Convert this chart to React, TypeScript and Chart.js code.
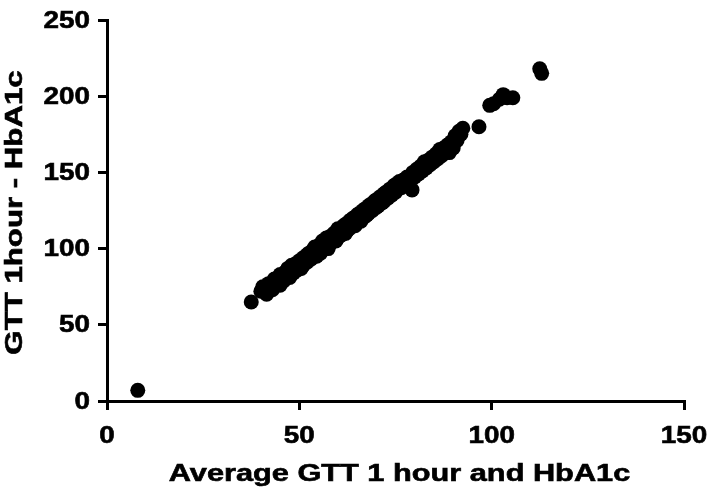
import React, { useEffect, useRef } from "react";
import { Chart, registerables } from "chart.js";

Chart.register(...registerables);

// Average of GTT 1 hour and HbA1c (x)
const averageValues = [
  8, 37.5, 40, 40.5, 41.5, 42, 43, 43.5, 44, 45,
  45, 46, 46.5, 47, 47.5, 48, 48.5, 49, 49.5, 50,
  50.5, 51, 51, 52, 52, 52.5, 53, 53.5, 54, 54,
  54.5, 55, 55.5, 56, 56, 56.5, 57, 57.5, 58, 58,
  58.5, 59, 59.5, 60, 60, 60.5, 61, 61.5, 62, 62,
  62.5, 63, 63, 63.5, 64, 64.5, 65, 65, 65.5, 66,
  66.5, 67, 67, 67.5, 68, 68, 68.5, 69, 69.5, 70,
  70, 70.5, 71, 71.5, 72, 72, 72.5, 73, 73.5, 74,
  74.5, 75, 75, 75.5, 76, 76.5, 77, 77.5, 78, 78.5,
  79.3, 79.5, 80, 80.5, 81, 81.5, 82, 82.5, 83, 83.5,
  84, 84.5, 85, 85.5, 86, 86.5, 87, 87.5, 88, 88.5,
  89, 89.5, 90, 90.5, 91, 91.5, 92, 92.5, 96.7, 99.5,
  100.5, 102, 103, 104, 105.5, 112.5, 113,
];

// GTT 1hour - HbA1c (y)
const differenceValues = [
  7, 65, 72, 75, 70, 77, 73, 80, 78, 76,
  83, 79, 85, 87, 81, 89, 84, 90, 86, 92,
  87, 94, 89, 96, 91, 97, 93, 99, 95, 101,
  95, 102, 97, 105, 99, 103, 107, 100, 108, 103,
  106, 110, 105, 113, 107, 112, 109, 115, 110, 116,
  112, 118, 113, 119, 120, 115, 122, 117, 123, 118,
  125, 121, 126, 122, 128, 123, 129, 125, 131, 127,
  132, 128, 134, 130, 136, 131, 137, 133, 139, 135,
  141, 137, 142, 139, 144, 140, 145, 142, 147, 143,
  138.5, 150, 147, 152, 149, 154, 151, 157, 153, 158,
  155, 160, 157, 162, 159, 165, 161, 166, 163, 168,
  163, 170, 166, 174, 171, 177, 175, 179, 180, 194,
  195, 198, 201, 199, 199, 218, 215,
];

const xTickValues = [0, 50, 100, 150];
const yTickValues = [0, 50, 100, 150, 200, 250];
const xTitle = "Average GTT 1 hour and HbA1c";
const yTitle = "GTT 1hour - HbA1c";

const FONT = '"Liberation Sans", Arial, Helvetica, sans-serif';

function drawStretched(
  ctx: CanvasRenderingContext2D,
  text: string,
  x: number,
  y: number,
  sx: number,
  align: CanvasTextAlign,
  baseline: CanvasTextBaseline,
  rotate: boolean
) {
  ctx.save();
  ctx.translate(x, y);
  if (rotate) ctx.rotate(-Math.PI / 2);
  ctx.scale(sx, 1);
  ctx.textAlign = align;
  ctx.textBaseline = baseline;
  ctx.fillText(text, 0, 0);
  ctx.lineWidth = 0.6;
  ctx.strokeText(text, 0, 0);
  ctx.restore();
}

const textPlugin = {
  id: "stretchedText",
  afterDraw(chart: any) {
    const ctx: CanvasRenderingContext2D = chart.ctx;
    const xs = chart.scales.x;
    const ys = chart.scales.y;
    const ca = chart.chartArea;
    ctx.save();
    ctx.fillStyle = "#000";
    ctx.strokeStyle = "#000";
    ctx.font = `bold 24px ${FONT}`;
    xTickValues.forEach((v) => {
      drawStretched(ctx, String(v), xs.getPixelForValue(v), ca.bottom + 42, 1.16, "center", "alphabetic", false);
    });
    yTickValues.forEach((v) => {
      drawStretched(ctx, String(v), ca.left - 17, ys.getPixelForValue(v) + 1, 1.16, "right", "middle", false);
    });
    ctx.font = `bold 24px ${FONT}`;
    drawStretched(ctx, xTitle, (ca.left + ca.right) / 2 + 4, ca.bottom + 80, 1.28, "center", "alphabetic", false);
    drawStretched(ctx, yTitle, ca.left - 85, (ca.top + ca.bottom) / 2 + 2, 1.3, "center", "alphabetic", true);
    ctx.restore();
  },
};

export default function App() {
  const canvasRef = useRef<HTMLCanvasElement | null>(null);

  useEffect(() => {
    const canvas = canvasRef.current;
    if (!canvas) return;
    const points = averageValues.map((x, i) => ({ x, y: differenceValues[i] }));
    const axisCommon = {
      type: "linear" as const,
      ticks: { display: false, stepSize: 50 },
      grid: {
        display: true,
        drawOnChartArea: false,
        drawTicks: true,
        tickLength: 9,
        color: "#000",
        lineWidth: 3,
      },
      border: { display: true, color: "#000", width: 3 },
      title: { display: false },
    };
    const chart = new Chart(canvas, {
      type: "scatter",
      data: {
        datasets: [
          {
            data: points,
            backgroundColor: "#000",
            borderColor: "#000",
            pointRadius: 7.5,
            pointHoverRadius: 7.5,
            borderWidth: 0,
          },
        ],
      },
      options: {
        responsive: false,
        animation: false,
        devicePixelRatio: 1,
        layout: {
          autoPadding: false,
          padding: { left: 98, right: 25, top: 20, bottom: 88 },
        },
        plugins: {
          legend: { display: false },
          tooltip: { enabled: false },
          title: { display: false },
        },
        scales: {
          x: { ...axisCommon, min: 0, max: 150 },
          y: { ...axisCommon, min: 0, max: 250 },
        },
      },
      plugins: [textPlugin],
    });
    return () => chart.destroy();
  }, []);

  return (
    <canvas
      ref={canvasRef}
      width={709}
      height={498}
      style={{ position: "absolute", left: 0, top: 0, display: "block", width: 709, height: 498 }}
    />
  );
}
